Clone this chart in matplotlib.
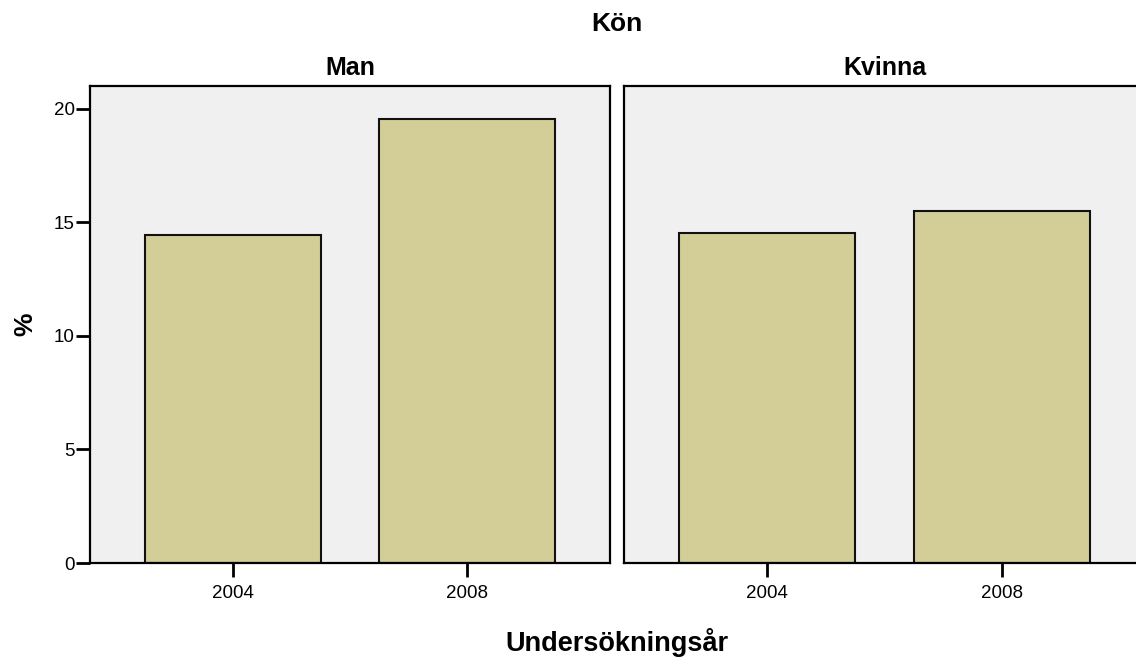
import matplotlib
matplotlib.use('Agg')
import matplotlib.pyplot as plt

plt.rcParams['font.family'] = ['Liberation Sans', 'DejaVu Sans']

# data
years = ['2004', '2008']
panels = ['Man', 'Kvinna']
man_pct = [14.45, 19.55]
kvinna_pct = [14.55, 15.5]

bar_color = '#D3CE97'
bg_color = '#F0F0F0'

fig = plt.figure(figsize=(11.36, 6.62), dpi=100)
ax1 = fig.add_axes([0.0792, 0.1495, 0.4577, 0.7205])
ax2 = fig.add_axes([0.5493, 0.1495, 0.4586, 0.7205])

for ax, title, vals in [(ax1, panels[0], man_pct), (ax2, panels[1], kvinna_pct)]:
    ax.set_facecolor(bg_color)
    ax.bar(range(len(years)), vals, width=0.75, color=bar_color,
           edgecolor='#111111', linewidth=1.5)
    ax.set_xlim(-0.61, 1.61)
    ax.set_ylim(0, 21)
    ax.set_xticks(range(len(years)))
    ax.set_xticklabels(years)
    ax.set_title(title, fontsize=18, fontweight='bold', pad=8)
    for s in ax.spines.values():
        s.set_linewidth(1.6)
    ax.tick_params(axis='both', direction='out', length=10, width=2,
                   labelsize=13.5, pad=1)
    ax.tick_params(axis='x', pad=6)

ax1.set_yticks([0, 5, 10, 15, 20])
ax1.set_ylabel('%', fontsize=19, fontweight='bold', labelpad=12)
ax2.set_yticks([])

fig.text(0.543, 0.964, 'Kön', ha='center', va='center', fontsize=19, fontweight='bold')
fig.text(0.543, 0.029, 'Undersökningsår', ha='center', va='center',
         fontsize=19.5, fontweight='bold')

fig.savefig('out.png', dpi=100)
